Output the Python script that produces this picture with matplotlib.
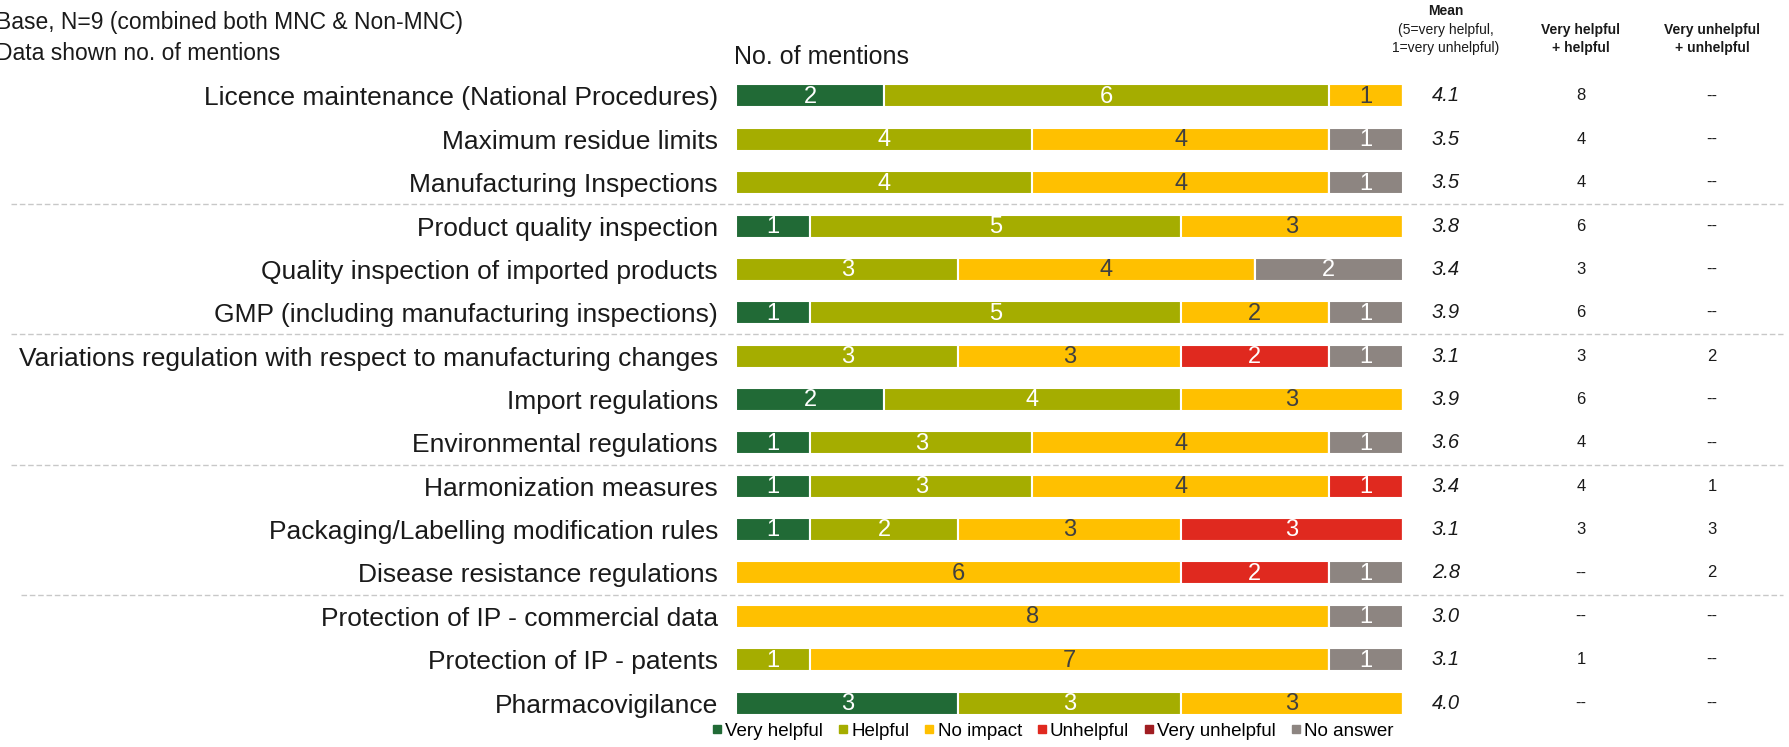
import matplotlib
matplotlib.use("Agg")
import matplotlib.pyplot as plt
from matplotlib.lines import Line2D
from matplotlib.transforms import blended_transform_factory
import numpy as np

categories = [
    "Licence maintenance (National Procedures)",
    "Maximum residue limits",
    "Manufacturing Inspections",
    "Product quality inspection",
    "Quality inspection of imported products",
    "GMP (including manufacturing inspections)",
    "Variations regulation with respect to manufacturing changes",
    "Import regulations",
    "Environmental regulations",
    "Harmonization measures",
    "Packaging/Labelling modification rules",
    "Disease resistance regulations",
    "Protection of IP - commercial data",
    "Protection of IP - patents",
    "Pharmacovigilance",
]
very_helpful   = [2, 0, 0, 1, 0, 1, 0, 2, 1, 1, 1, 0, 0, 0, 3]
helpful        = [6, 4, 4, 5, 3, 5, 3, 4, 3, 3, 2, 0, 0, 1, 3]
no_impact      = [1, 4, 4, 3, 4, 2, 3, 3, 4, 4, 3, 6, 8, 7, 3]
unhelpful      = [0, 0, 0, 0, 0, 0, 2, 0, 0, 1, 3, 2, 0, 0, 0]
very_unhelpful = [0, 0, 0, 0, 0, 0, 0, 0, 0, 0, 0, 0, 0, 0, 0]
no_answer      = [0, 1, 1, 0, 2, 1, 1, 0, 1, 0, 0, 1, 1, 1, 0]
means    = ["4.1", "3.5", "3.5", "3.8", "3.4", "3.9", "3.1", "3.9", "3.6", "3.4", "3.1", "2.8", "3.0", "3.1", "4.0"]
helpful_sum   = ["8", "4", "4", "6", "3", "6", "3", "6", "4", "4", "3", "--", "--", "1", "--"]
unhelpful_sum = ["--", "--", "--", "--", "--", "--", "2", "--", "--", "1", "3", "2", "--", "--", "--"]

series_names = ["Very helpful", "Helpful", "No impact", "Unhelpful", "Very unhelpful", "No answer"]
series = [very_helpful, helpful, no_impact, unhelpful, very_unhelpful, no_answer]
colors = ["#216a36", "#a5ad00", "#ffc000", "#e0291f", "#a01d22", "#8d8581"]
text_colors = ["white", "white", "#404040", "white", "white", "white"]

FONT = ["Liberation Sans", "DejaVu Sans"]
plt.rcParams["font.family"] = FONT
TXT = "#1a1a1a"

W, H = 1790, 747
fig = plt.figure(figsize=(W / 100, H / 100), dpi=100)
left_px, right_px = 736, 1403
top_px, bot_px = 74.3, 724.7
ax = fig.add_axes([left_px / W, 1 - bot_px / H, (right_px - left_px) / W, (bot_px - top_px) / H])

y = np.arange(len(categories))
lefts = np.zeros(len(categories))
for name, vals, c, tc in zip(series_names, series, colors, text_colors):
    vals = np.array(vals, dtype=float)
    bars = ax.barh(y, vals, left=lefts, height=0.53, color=c, edgecolor="white", linewidth=1.5)
    for b, v in zip(bars, vals):
        if v > 0:
            ax.text(b.get_x() + b.get_width() / 2, b.get_y() + b.get_height() / 2 + 0.02, f"{int(v)}",
                    ha="center", va="center", color=tc, fontsize=17)
    lefts += vals

ax.set_xlim(0, 9)
ax.set_ylim(len(categories) - 0.5, -0.5)
ax.set_yticks(y)
ax.set_yticklabels(categories, fontsize=19, color=TXT)
ax.tick_params(axis="y", length=0, pad=13)
ax.set_xticks([])
for s in ax.spines.values():
    s.set_visible(False)

tr = blended_transform_factory(fig.transFigure, ax.transData)
for i in range(len(categories)):
    ax.text(1446 / W, i, means[i], transform=tr, ha="center", va="center",
            fontsize=14.5, style="italic", color=TXT)
    ax.text(1581 / W, i, helpful_sum[i], transform=tr, ha="center", va="center",
            fontsize=12, color=TXT)
    ax.text(1712 / W, i, unhelpful_sum[i], transform=tr, ha="center", va="center",
            fontsize=12, color=TXT)

# separators
for yy, x0 in [(2.5, 11), (5.5, 11), (8.5, 11), (11.5, 21)]:
    ln = Line2D([x0 / W, 1783 / W], [yy, yy], transform=tr, color="#c8c8c8",
                linestyle=(0, (4, 2)), linewidth=1.0, clip_on=False)
    fig.add_artist(ln)

# headers
fig.text(1446 / W, 1 - 11 / H, "Mean", ha="center", va="center", fontsize=10, weight="bold", color=TXT)
fig.text(1446 / W, 1 - 30 / H, "(5=very helpful,", ha="center", va="center", fontsize=10, color=TXT)
fig.text(1446 / W, 1 - 48 / H, "1=very unhelpful)", ha="center", va="center", fontsize=10, color=TXT)
fig.text(1581 / W, 1 - 30 / H, "Very helpful", ha="center", va="center", fontsize=10, weight="bold", color=TXT)
fig.text(1581 / W, 1 - 48 / H, "+ helpful", ha="center", va="center", fontsize=10, weight="bold", color=TXT)
fig.text(1712 / W, 1 - 30 / H, "Very unhelpful", ha="center", va="center", fontsize=10, weight="bold", color=TXT)
fig.text(1712 / W, 1 - 48 / H, "+ unhelpful", ha="center", va="center", fontsize=10, weight="bold", color=TXT)

fig.text(-4 / W, 1 - 23 / H, "Base, N=9 (combined both MNC & Non-MNC)", ha="left", va="center",
         fontsize=16.5, color=TXT)
fig.text(-4 / W, 1 - 53 / H, "Data shown no. of mentions", ha="left", va="center",
         fontsize=16.5, color=TXT)
fig.text(734 / W, 1 - 57 / H, "No. of mentions", ha="left", va="center",
         fontsize=18, color=TXT)

handles = [Line2D([0], [0], marker="s", linestyle="none", markersize=6, markerfacecolor=c,
                  markeredgecolor=c) for c in colors]
fig.legend(handles, series_names, loc="center", bbox_to_anchor=(1053 / W, 1 - 731 / H),
           ncol=6, frameon=False, prop={"size": 13.5},
           handlelength=0.5, handletextpad=0.2, columnspacing=0.8, borderpad=0)

fig.savefig("out.png", dpi=100)
